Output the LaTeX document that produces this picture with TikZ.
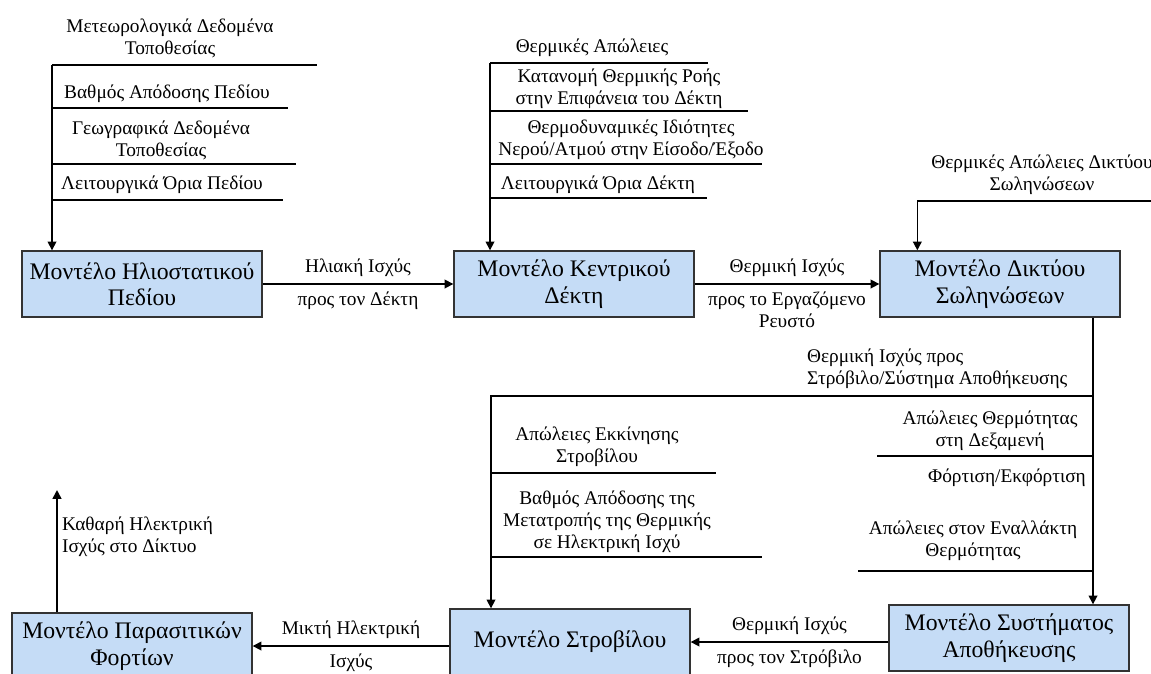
\documentclass[tikz,border=0pt]{standalone}
\usepackage{fontspec}
\setmainfont{Liberation Serif}
\usetikzlibrary{calc, arrows.meta}

\definecolor{modelblue}{RGB}{197,220,246}

\begin{document}
\begin{tikzpicture}[x=0.02cm, y=-0.02cm,
		model/.style = {draw = black!80, line width = 0.8pt, fill = modelblue,
			minimum width = 4.8cm, minimum height = 1.32cm, align = center,
			font = \fontsize{13.5}{15}\selectfont},
		flow/.style = {line width = 0.9pt, -{Triangle[length = 5pt, width = 5pt]}},
		shelf/.style = {line width = 0.9pt},
		lbl/.style = {align = center, inner sep = 1pt, font = \fontsize{11}{12.5}\selectfont}]
		
		\useasboundingbox (0,0) rectangle (1151,673);
		
		% the six models
		\node [model] (field) at (142,284) {Μοντέλο Ηλιοστατικού\\Πεδίου};
		\node [model] (receiver) at (574,284) {Μοντέλο Κεντρικού\\Δέκτη};
		\node [model] (piping) at (1000,284) {Μοντέλο Δικτύου\\Σωληνώσεων};
		\node [model] (storage) at (1009,638) {Μοντέλο Συστήματος\\Αποθήκευσης};
		\node [model] (turbine) at (570,642) {Μοντέλο Στροβίλου};
		\node [model] (parasitic) at (132,646) {Μοντέλο Παρασιτικών\\Φορτίων};
		
		% inputs of the heliostat field
		\coordinate (field in) at (52,65);
		\draw [flow] (field in) -- (field in |- field.north);
		\draw [shelf] (field in) -- ++(265,0);
		\draw [shelf] ($ (field in) + (0,43) $) -- ++(236,0);
		\draw [shelf] ($ (field in) + (0,99) $) -- ++(244,0);
		\draw [shelf] ($ (field in) + (0,135) $) -- ++(231,0);
		\node [lbl] (met data) at (170,38) {Μετεωρολογικά Δεδομένα\\Τοποθεσίας};
		\node [lbl] (field eff) at (167,94) {Βαθμός Απόδοσης Πεδίου};
		\node [lbl] (geo data) at (161,140) {Γεωγραφικά Δεδομένα\\Τοποθεσίας};
		\node [lbl] (field lim) at (162,185) {Λειτουργικά Όρια Πεδίου};
		
		% inputs of the receiver
		\coordinate (recv in) at (490,63);
		\draw [flow] (recv in) -- (recv in |- receiver.north);
		\draw [shelf] (recv in) -- ++(218,0);
		\draw [shelf] ($ (recv in) + (0,48) $) -- ++(258,0);
		\draw [shelf] ($ (recv in) + (0,101) $) -- ++(272,0);
		\draw [shelf] ($ (recv in) + (0,135) $) -- ++(217,0);
		\node [lbl] (recv loss) at (592,48) {Θερμικές Απώλειες};
		\node [lbl] (flux) at (619,89) {Κατανομή Θερμικής Ροής\\στην Επιφάνεια του Δέκτη};
		\node [lbl] (thermo) at (631,140) {Θερμοδυναμικές Ιδιότητες\\Νερού/Ατμού στην Είσοδο/Έξοδο};
		\node [lbl] (recv lim) at (598,185) {Λειτουργικά Όρια Δέκτη};
		
		% main chain
		\draw [flow] (field.east) -- (receiver.west)
			node [lbl, midway, above = 3pt] {Ηλιακή Ισχύς}
			node [lbl, midway, below = 3pt] {προς τον Δέκτη};
		\draw [flow] (receiver.east) -- (piping.west)
			node [lbl, midway, above = 3pt] {Θερμική Ισχύς}
			node [lbl, midway, below = 3pt] {προς το Εργαζόμενο\\Ρευστό};
		
		% piping losses
		\coordinate (pipe loss) at (1151,201);
		\draw [flow] (pipe loss) -| ($ (piping.north west) + (38,0) $);
		\node [lbl] (pipe loss lbl) at (1042,175) {Θερμικές Απώλειες Δικτύου\\Σωληνώσεων};
		
		% split towards turbine and storage
		\coordinate (split) at (1093,396);
		\coordinate (turb in) at (491,396);
		\draw [shelf] (split |- piping.south) -- (split);
		\draw [flow] (split) -- (split |- storage.north);
		\draw [flow] (split) -- (turb in) -- (turb in |- turbine.north);
		\node [lbl, anchor = west, align = left] (split lbl) at (805,369) {Θερμική Ισχύς προς\\Στρόβιλο/Σύστημα Αποθήκευσης};
		
		% storage side
		\draw [shelf] ($ (split) + (0,60) $) -- ++(-216,0);
		\draw [shelf] ($ (split) + (0,175) $) -- ++(-235,0);
		\node [lbl] (tank loss) at (990,431) {Απώλειες Θερμότητας\\στη Δεξαμενή};
		\node [lbl] (charge) at (1007,478) {Φόρτιση/Εκφόρτιση};
		\node [lbl] (hx loss) at (973,541) {Απώλειες στον Εναλλάκτη\\Θερμότητας};
		
		% turbine side
		\draw [shelf] ($ (turb in) + (0,77) $) -- ++(225,0);
		\draw [shelf] ($ (turb in) + (0,161) $) -- ++(271,0);
		\node [lbl] (start loss) at (597,447) {Απώλειες Εκκίνησης\\Στροβίλου};
		\node [lbl] (conv eff) at (607,522) {Βαθμός Απόδοσης της\\Μετατροπής της Θερμικής\\σε Ηλεκτρική Ισχύ};
		
		% bottom chain
		\draw [flow] (storage.west |- turbine.east) -- (turbine.east)
			node [lbl, midway, above = 3pt] {Θερμική Ισχύς}
			node [lbl, midway, below = 3pt] {προς τον Στρόβιλο};
		\draw [flow] (turbine.west |- parasitic.east) -- (parasitic.east)
			node [lbl, midway, above = 3pt] {Μικτή Ηλεκτρική}
			node [lbl, midway, below = 3pt] {Ισχύς};
		
		% net output
		\coordinate (grid out) at (57,490);
		\draw [flow] (parasitic.north -| grid out) -- (grid out);
		\node [lbl, anchor = west, align = left] (net lbl) at (60,537) {Καθαρή Ηλεκτρική\\Ισχύς στο Δίκτυο};
	\end{tikzpicture}
\end{document}
